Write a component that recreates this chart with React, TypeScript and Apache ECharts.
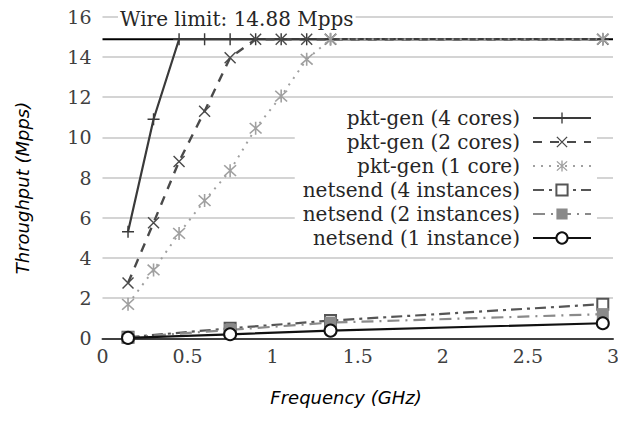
import React, { useEffect, useRef } from "react";
import * as echarts from "echarts";

// ---- data ----
const pktFreq = [0.15, 0.3, 0.45, 0.6, 0.75, 0.9, 1.05, 1.2, 1.34, 2.94];
const pktGen4 = [5.3, 10.9, 14.88, 14.88, 14.88, 14.88, 14.88, 14.88, 14.88, 14.88];
const pktGen2 = [2.75, 5.75, 8.8, 11.3, 13.96, 14.88, 14.88, 14.88, 14.88, 14.88];
const pktGen1 = [1.69, 3.4, 5.22, 6.85, 8.34, 10.45, 12.05, 13.88, 14.88, 14.88];

const netFreq = [0.15, 0.75, 1.34, 2.94];
const netsend4 = [0.05, 0.5, 0.88, 1.7];
const netsend2 = [0.04, 0.42, 0.78, 1.2];
const netsend1 = [0.02, 0.2, 0.38, 0.75];

const wireLimit = 14.88;
const wireRange = [0, 3];

const seriesNames = [
  "pkt-gen (4 cores)",
  "pkt-gen (2 cores)",
  "pkt-gen (1 core)",
  "netsend (4 instances)",
  "netsend (2 instances)",
  "netsend (1 instance)",
];

const plusSym = "path://M8.8,0H11.2V8.8H20V11.2H11.2V20H8.8V11.2H0V8.8H8.8Z";
const crossSym = "path://M0,1.7L1.7,0L20,18.3L18.3,20Z M18.3,0L20,1.7L1.7,20L0,18.3Z";
const starSym =
  "path://M1,2.6L2.6,1L19,17.4L17.4,19Z M17.4,1L19,2.6L2.6,19L1,17.4Z M8.9,0H11.1V20H8.9Z";

const zip = (xs: number[], ys: number[]) => xs.map((x, i) => [x, ys[i]]);

export default function App() {
  const ref = useRef<HTMLDivElement>(null);
  useEffect(() => {
    if (!ref.current) return;
    const chart = echarts.init(ref.current, null, { renderer: "svg" });
    const serif = "DejaVu Serif";
    const sans = "DejaVu Sans";
    chart.setOption({
      animation: false,
      backgroundColor: "#fff",
      grid: { left: 102.5, right: 13, top: 16.7, bottom: 98.7, outerBoundsMode: "none" },
      xAxis: {
        type: "value",
        min: 0,
        max: 3,
        interval: 0.5,
        axisLine: { show: true, onZero: false, lineStyle: { color: "#404040", width: 2 } },
        axisTick: { show: false },
        splitLine: { show: false },
        axisLabel: { color: "#404040", fontFamily: serif, fontSize: 19, margin: 8 },
      },
      yAxis: {
        type: "value",
        min: 0,
        max: 16,
        interval: 2,
        axisLine: { show: false },
        axisTick: { show: false },
        splitLine: { show: true, lineStyle: { color: "#d4d4d4", width: 2 } },
        axisLabel: { color: "#404040", fontFamily: serif, fontSize: 19, margin: 11 },
      },
      legend: {
        data: seriesNames,
        orient: "vertical",
        align: "right",
        right: 29,
        top: 104,
        itemWidth: 58,
        itemHeight: 14,
        itemGap: 4,
        padding: [4, 5, 4, 8],
        backgroundColor: "#fff",
        textStyle: {
          fontFamily: serif,
          fontSize: 20,
          color: "#262626",
          lineHeight: 20,
          padding: [0, 8, 0, 0],
        },
      },
      graphic: [
        {
          type: "text",
          x: 118,
          y: 19,
          z: 10,
          style: {
            text: "Wire limit: 14.88 Mpps",
            font: `20px '${serif}'`,
            fill: "#262626",
            verticalAlign: "middle",
            align: "left",
            backgroundColor: "#fff",
            padding: [0, 2, 0, 2],
          },
        },
        {
          type: "text",
          x: 346,
          y: 397,
          style: {
            text: "Frequency (GHz)",
            font: `italic 18px '${sans}'`,
            fill: "#000",
            align: "center",
            verticalAlign: "middle",
          },
        },
        {
          type: "text",
          x: 22,
          y: 188,
          rotation: Math.PI / 2,
          style: {
            text: "Throughput (Mpps)",
            font: `italic 18px '${sans}'`,
            fill: "#000",
            align: "center",
            verticalAlign: "middle",
          },
        },
      ],
      series: [
        {
          name: "wire limit",
          type: "line",
          data: wireRange.map((x) => [x, wireLimit]),
          symbol: "none",
          lineStyle: { color: "#000", width: 2 },
          silent: true,
        },
        {
          name: seriesNames[0],
          type: "line",
          data: zip(pktFreq, pktGen4),
          symbol: plusSym,
          symbolSize: 12,
          lineStyle: { color: "#3a3a3a", width: 2.2, type: "solid" },
          itemStyle: { color: "#3a3a3a", borderWidth: 0 },
        },
        {
          name: seriesNames[1],
          type: "line",
          data: zip(pktFreq, pktGen2),
          symbol: crossSym,
          symbolSize: 12,
          lineStyle: { color: "#4a4a4a", width: 2.4, type: [9, 8] },
          itemStyle: { color: "#4a4a4a", borderWidth: 0 },
        },
        {
          name: seriesNames[2],
          type: "line",
          data: zip(pktFreq, pktGen1),
          symbol: starSym,
          symbolSize: 13,
          lineStyle: { color: "#a0a0a0", width: 2, type: [2, 6] },
          itemStyle: { color: "#a0a0a0", borderWidth: 0 },
        },
        {
          name: seriesNames[3],
          type: "line",
          data: zip(netFreq, netsend4),
          symbol: "emptyRect",
          symbolSize: 11,
          lineStyle: { color: "#555", width: 2.2, type: [11, 5, 3, 5] },
          itemStyle: { color: "#555", borderWidth: 2 },
        },
        {
          name: seriesNames[4],
          type: "line",
          data: zip(netFreq, netsend2),
          symbol: "rect",
          symbolSize: 12,
          lineStyle: { color: "#8a8a8a", width: 2.2, type: [12, 6, 2, 6] },
          itemStyle: { color: "#8a8a8a", borderWidth: 0 },
        },
        {
          name: seriesNames[5],
          type: "line",
          data: zip(netFreq, netsend1),
          symbol: "emptyCircle",
          symbolSize: 12,
          lineStyle: { color: "#111", width: 2.2, type: "solid" },
          itemStyle: { color: "#111", borderWidth: 2 },
        },
      ],
    });
    return () => chart.dispose();
  }, []);
  return <div ref={ref} style={{ width: 626, height: 437, margin: -8 }} />;
}
